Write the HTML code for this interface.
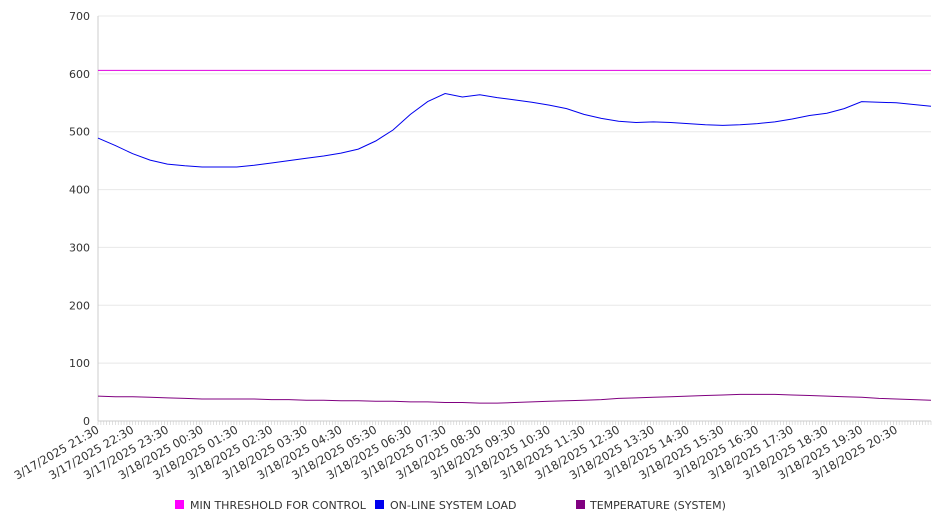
<!DOCTYPE html>
<html><head><meta charset="utf-8"><style>
body{margin:0;background:#fff;font-family:"DejaVu Sans","Liberation Sans",sans-serif;}
svg text{font-family:"DejaVu Sans","Liberation Sans",sans-serif;fill:#333;}
</style></head><body>
<svg id="chart" width="946" height="526" viewBox="0 0 946 526" xmlns="http://www.w3.org/2000/svg">
<g id="grid"></g>
<g id="axes"></g>
<g id="series"></g>
<g id="legend">
<rect x="175" y="500" width="9" height="9" fill="#ff00ff"/>
<text x="190" y="509" font-size="11">MIN THRESHOLD FOR CONTROL</text>
<rect x="375" y="500" width="9" height="9" fill="#0000ee"/>
<text x="390" y="509" font-size="11">ON-LINE SYSTEM LOAD</text>
<rect x="576" y="500" width="9" height="9" fill="#800080"/>
<text x="590" y="509" font-size="11">TEMPERATURE (SYSTEM)</text>
</g>
</svg>
<script>
const tickLabels=["3/17/2025 21:30","3/17/2025 22:30","3/17/2025 23:30","3/18/2025 00:30","3/18/2025 01:30","3/18/2025 02:30","3/18/2025 03:30","3/18/2025 04:30","3/18/2025 05:30","3/18/2025 06:30","3/18/2025 07:30","3/18/2025 08:30","3/18/2025 09:30","3/18/2025 10:30","3/18/2025 11:30","3/18/2025 12:30","3/18/2025 13:30","3/18/2025 14:30","3/18/2025 15:30","3/18/2025 16:30","3/18/2025 17:30","3/18/2025 18:30","3/18/2025 19:30","3/18/2025 20:30"];
const yTicks=[0,100,200,300,400,500,600,700];
const loadValues=[489,476,462,451,444,441,439,439,439,442,446,450,454,458,463,470,484,503,530,552,566,560,564,559,555,551,546,540,530,523,518,516,517,516,514,512,511,512,514,517,522,528,532,540,552,551,550,547,544];
const tempValues=[43,42,42,41,40,39,38,38,38,38,37,37,36,36,35,35,34,34,33,33,32,32,31,31,32,33,34,35,36,37,39,40,41,42,43,44,45,46,46,46,45,44,43,42,41,39,38,37,36];
const thresholdValues=[606,606];
const NS="http://www.w3.org/2000/svg";
const X0=98,X1=931,Y0=421,Y1=16,YMAX=700,NH=24;
const xs=h=>X0+(X1-X0)*h/NH;
const ys=v=>Y0-(Y0-Y1)*v/YMAX;
function mk(t,a,p){const e=document.createElementNS(NS,t);for(const k in a)e.setAttribute(k,a[k]);p.appendChild(e);return e;}
const grid=document.getElementById('grid'),axes=document.getElementById('axes'),series=document.getElementById('series');
yTicks.forEach(v=>{
 if(v>0){const g=mk('line',{x1:X0,x2:X1,y1:ys(v),y2:ys(v),stroke:'#e8e8e8','stroke-width':1},grid);
 
 }
 const t=mk('text',{x:90,y:ys(v)+4,'font-size':11,'text-anchor':'end'},axes);t.textContent=v;
 
 
});
const ax=mk('line',{x1:X0,x2:X0,y1:Y1,y2:Y0,stroke:'#ccc'},axes);


const bx=mk('line',{x1:X0,x2:X1,y1:Y0,y2:Y0,stroke:'#ccc'},axes);


for(let i=0;i<=NH*12;i++){const x=X0+(X1-X0)*i/(NH*12);const m=mk('line',{x1:x,x2:x,y1:Y0,y2:Y0+4,stroke:'#ccc','stroke-width':0.6},axes);
 
 }
tickLabels.forEach((l,i)=>{const x=xs(i)+2,y=Y0+11;
 const t=mk('text',{x:x,y:y,'font-size':11.5,'text-anchor':'end',transform:`rotate(-30 ${x} ${y})`},axes);t.textContent=l;
 
 });
function line(vals,color,name){const n=vals.length-1;const d=vals.map((v,i)=>(i?'L':'M')+xs(i*NH/n).toFixed(1)+','+ys(v).toFixed(1)).join('');
 const p=mk('path',{d:d,fill:'none',stroke:color,'stroke-width':1},series);
 
 }
line(thresholdValues,'#e000e0','threshold-line');
line(loadValues,'#0000ee','system-load-line');
line(tempValues,'#800080','temperature-line');
</script>
</body></html>
